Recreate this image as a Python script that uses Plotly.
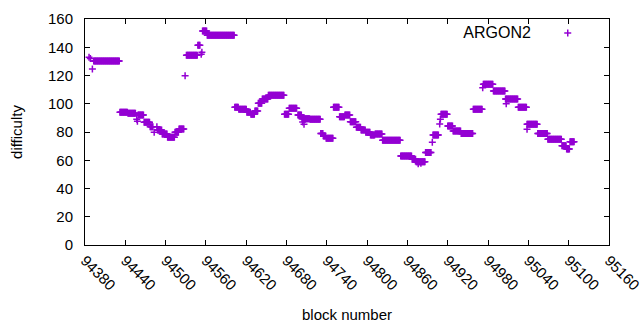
import plotly.graph_objects as go

# Runs of constant difficulty (first block, last block, value)
run_start = [94393, 94432, 94444, 94459, 94468, 94477, 94488, 94495, 94503, 94514,
             94520, 94531, 94548, 94555, 94562, 94603, 94609, 94621, 94627, 94633,
             94638, 94644, 94653, 94677, 94684, 94697, 94703, 94715, 94731, 94735,
             94739, 94750, 94759, 94767, 94775, 94784, 94791, 94798, 94805, 94812,
             94823, 94850, 94867, 94873, 94887, 94898, 94910, 94920, 94928, 94940,
             94958, 94973, 94988, 95006, 95025, 95038, 95054, 95069, 95090, 95097,
             95102]
run_end = [94431, 94443, 94455, 94467, 94476, 94481, 94494, 94502, 94513, 94519,
           94527, 94547, 94551, 94561, 94602, 94608, 94620, 94626, 94632, 94637,
           94643, 94652, 94676, 94683, 94695, 94702, 94714, 94730, 94734, 94738,
           94749, 94758, 94766, 94774, 94783, 94790, 94797, 94804, 94811, 94822,
           94849, 94866, 94872, 94886, 94895, 94906, 94919, 94927, 94939, 94957,
           94971, 94987, 95005, 95024, 95037, 95053, 95068, 95089, 95096, 95101,
           95108]
run_value = [130.3, 94.0, 93.2, 92.0, 86.9, 83.8, 81.4, 78.6, 76.2, 79.8,
             82.1, 134.3, 141.5, 151.5, 148.5, 97.5, 96.1, 94.0, 92.5, 94.9,
             100.3, 103.4, 106.0, 92.5, 96.8, 92.0, 89.3, 89.0, 79.0, 77.2,
             75.5, 97.5, 90.8, 92.0, 87.3, 83.3, 81.4, 79.8, 77.9, 78.6,
             74.1, 63.0, 60.7, 59.0, 65.4, 77.9, 92.5, 84.3, 80.7, 79.0,
             96.1, 113.8, 109.0, 103.4, 97.5, 85.4, 79.0, 74.8, 70.3, 68.0,
             73.1]

# Isolated blocks off the runs
single_block = [94386, 94388, 94391, 94457, 94458, 94483, 94487, 94529, 94553, 94554,
                94704, 94706, 94876, 94880, 94897, 94908, 94909, 94972, 95007, 95038]
single_value = [133.0, 132.0, 124.6, 89.0, 87.6, 79.8, 83.8, 119.9, 135.0, 136.4,
                87.0, 85.5, 57.5, 57.8, 72.7, 85.7, 89.0, 111.4, 100.0, 82.0]

x_ticks = [94380, 94440, 94500, 94560, 94620, 94680, 94740, 94800, 94860,
           94920, 94980, 95040, 95100, 95160]
y_ticks = [0, 20, 40, 60, 80, 100, 120, 140, 160]

pts = []
for s, e, v in zip(run_start, run_end, run_value):
    for b in range(s, e + 1):
        pts.append((b, v))
pts += list(zip(single_block, single_value))
pts.sort()
xs = [p[0] for p in pts]
ys = [p[1] for p in pts]

color = "#9400D3"
font = "Liberation Sans, Arial, sans-serif"

fig = go.Figure()
fig.add_trace(go.Scatter(
    x=xs, y=ys, mode="markers", name="",
    marker=dict(symbol="cross-thin", size=5, color=color,
                line=dict(width=1.5, color=color)),
    showlegend=True, hoverinfo="skip",
))

axis_common = dict(showline=True, linecolor="black", linewidth=1, mirror="ticks",
                   ticks="inside", ticklen=5, tickcolor="black", showgrid=False,
                   zeroline=False, automargin=False, ticklabeloverflow="allow",
                   tickfont=dict(family=font, size=15, color="black"))

fig.update_layout(
    width=640, height=330,
    margin=dict(l=85, r=31, t=19, b=85),
    paper_bgcolor="white", plot_bgcolor="white",
    font=dict(family=font, size=15, color="black"),
    xaxis=dict(range=[94380, 95160], tickvals=x_ticks,
               ticktext=[str(t) for t in x_ticks], tickangle=45,
               title=dict(text="block number", font=dict(family=font, size=15), standoff=17),
               **axis_common),
    yaxis=dict(range=[0, 160], tickvals=y_ticks,
               ticktext=[str(t) for t in y_ticks], ticklabelstandoff=8,
               title=dict(text="difficulty", font=dict(family=font, size=15), standoff=21),
               **axis_common),
    legend=dict(x=0.97, y=1.01, xanchor="right", yanchor="top",
                bgcolor="rgba(0,0,0,0)",
                title=dict(text="ARGON2\u00a0\u00a0", side="left",
                           font=dict(family=font, size=16)),
                font=dict(family=font, size=15)),
)

fig.write_html("out.html", config={"displayModeBar": False},
               post_script="document.body.style.margin='0';")
